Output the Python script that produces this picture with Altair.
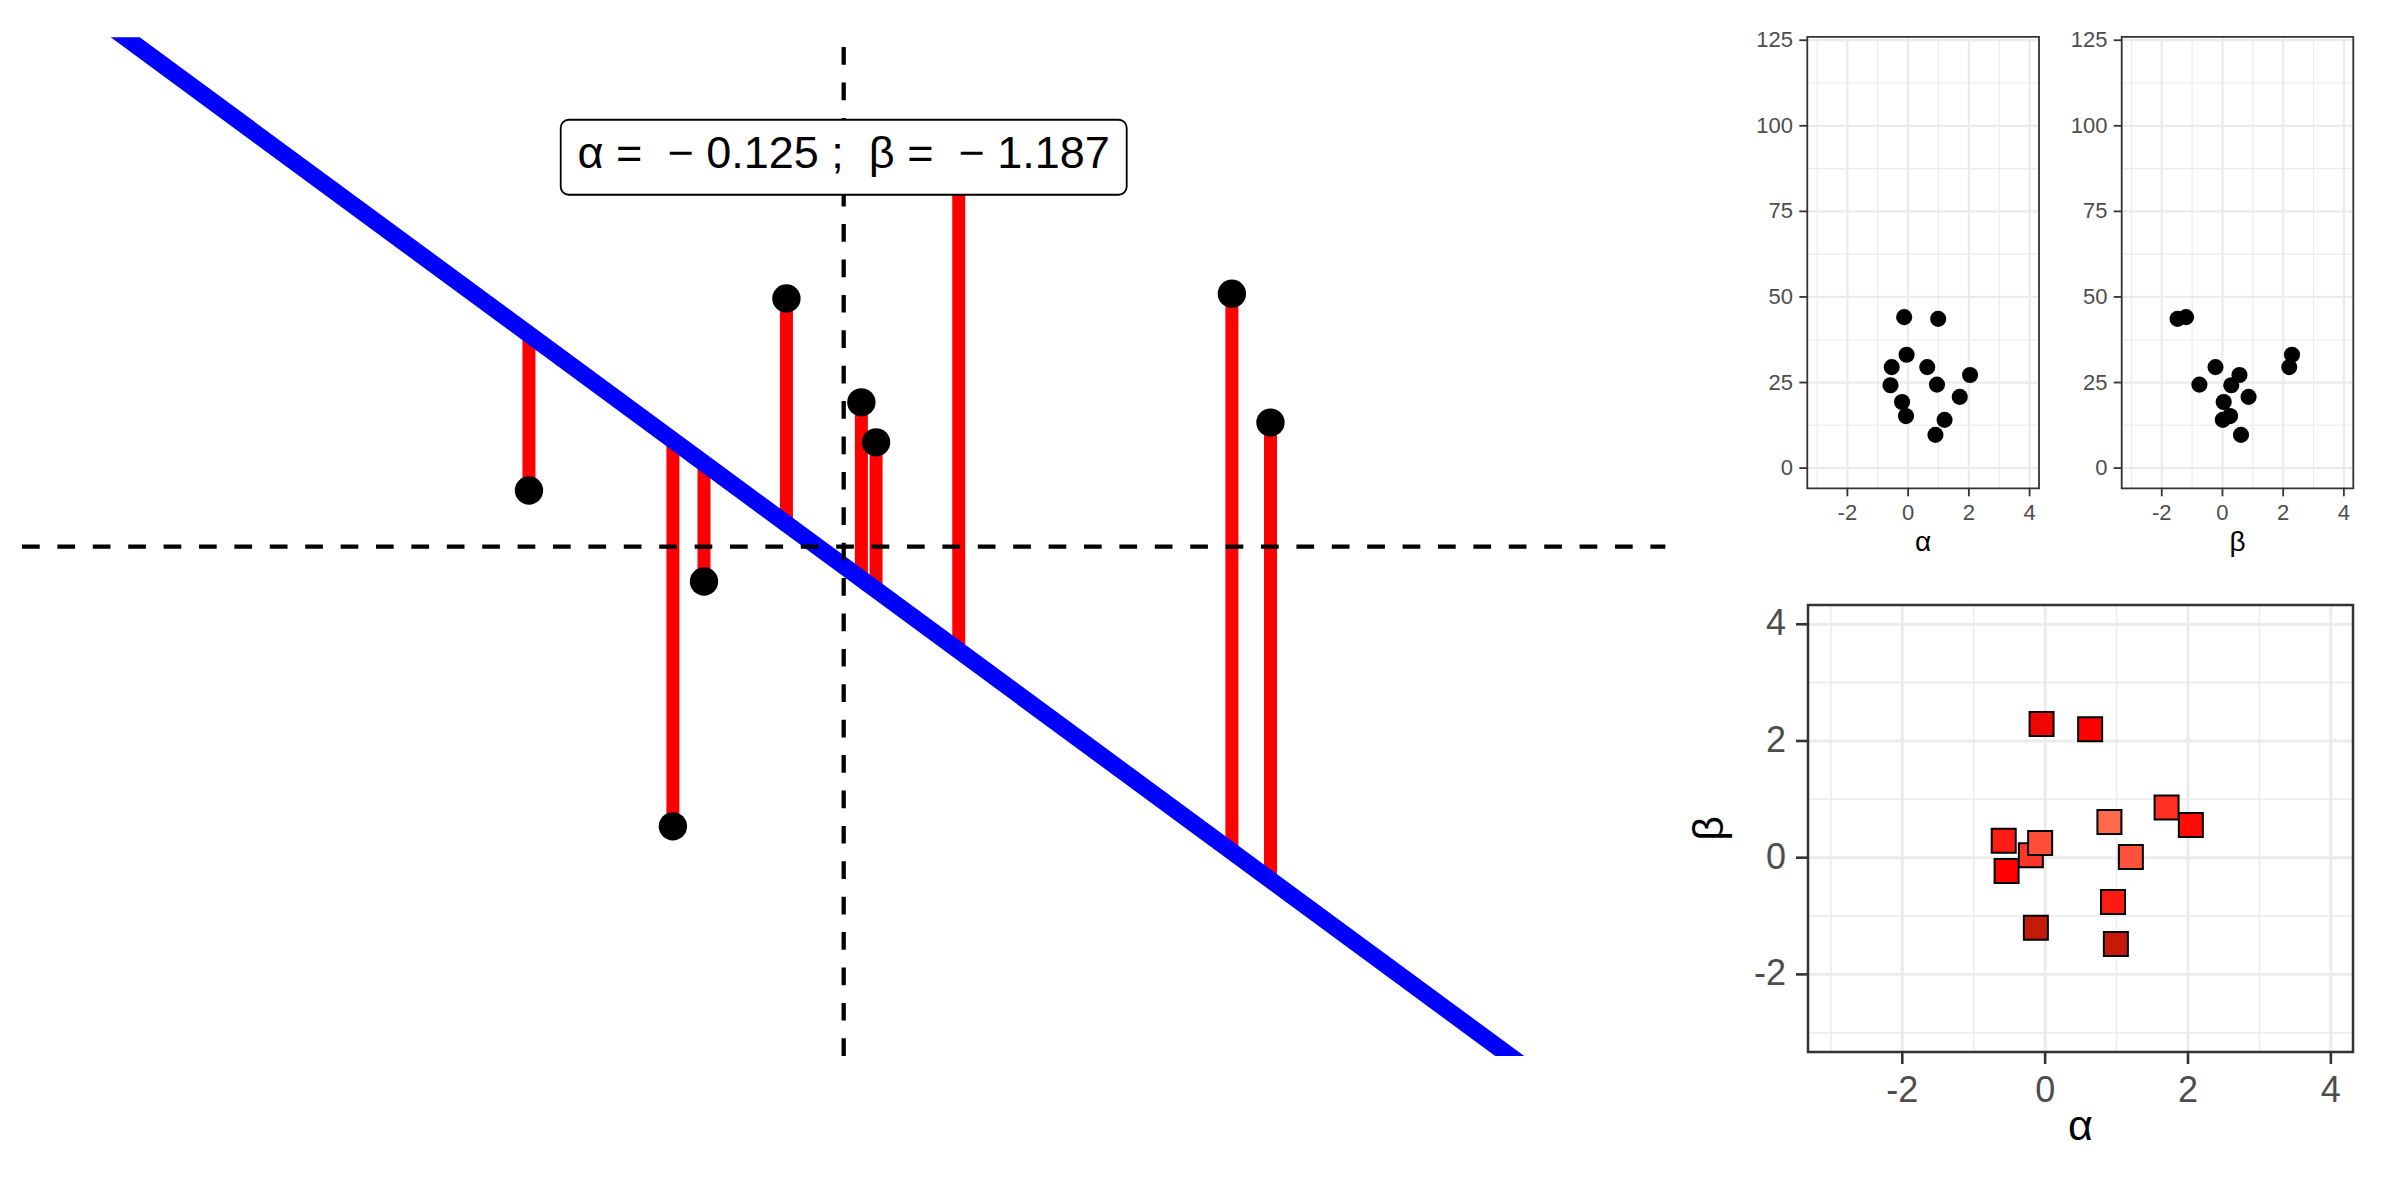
import altair as alt
import pandas as pd

# ---------------- data ----------------
x_obs = [-1.264, -0.686, -0.561, -0.230, 0.071, 0.130, 0.462, 1.559, 1.714]
y_obs = [0.364, -1.812, -0.226, 1.608, 0.935, 0.676, 2.523, 1.639, 0.804]
alpha_hat = -0.125
beta_hat = -1.187

alpha_path = [-0.13, 0.99, -0.05, -0.54, 0.63, 2.04, -0.58, 0.95, 1.70, -0.20, -0.07, 1.20, 0.90]
beta_path = [-1.20, -1.48, 2.29, -0.23, 2.20, 0.56, 0.29, -0.76, 0.86, 0.04, 0.25, 0.01, 0.61]
loss_path = [44.1, 43.6, 33.1, 29.5, 29.5, 27.2, 24.2, 24.4, 20.8, 19.3, 15.2, 14.1, 9.7]

coef_ticks = [-2, 0, 2, 4]
coef_minor = [-3, -1, 1, 3]
loss_ticks = [0, 25, 50, 75, 100, 125]
loss_minor = [12.5, 37.5, 62.5, 87.5, 112.5]

label_text = "\u03b1 = \u00a0\u2212 0.125 ; \u00a0\u03b2 = \u00a0\u2212 1.187"

# ---------------- layout constants ----------------
W, H = 2384, 1184
FONT = "Liberation Sans"
GRID = "#EBEBEB"
DARK = "#333333"
TXT = "#4D4D4D"

MAIN_LIM = [-3.3, 3.3]
MAIN_XR = [14, 1657.4]
MAIN_YR = [1048, 29.3]

COEF_LIM = [-3.32, 4.31]
LOSS_LIM = [-5.9, 126.0]
S1_XR = [1799.3, 2031.0]
S2_XR = [2113.7, 2345.3]
S_YR = [480.3, 28.8]
BR_XR = [1800.0, 2345.0]
BR_YLIM = [-3.33, 4.33]
BR_YR = [1044.0, 597.0]

kx = (MAIN_XR[1] - MAIN_XR[0]) / (MAIN_LIM[1] - MAIN_LIM[0])
ky = (MAIN_YR[0] - MAIN_YR[1]) / (MAIN_LIM[1] - MAIN_LIM[0])


def lin(domain, rng):
    return alt.Scale(domain=domain, range=rng, nice=False, zero=False)


def fmt(v):
    return f"{v:g}"


# ---------------- main panel ----------------
mx = lin(MAIN_LIM, MAIN_XR)
my = lin(MAIN_LIM, MAIN_YR)

df_obs = pd.DataFrame({"x": x_obs, "y": y_obs})
df_obs["fit"] = alpha_hat + beta_hat * df_obs["x"]

band_half = 14.5 / kx
df_band = pd.DataFrame({"yy": MAIN_LIM})
df_band["xc"] = (df_band["yy"] - alpha_hat) / beta_hat
df_band["xl"] = df_band["xc"] - band_half
df_band["xr"] = df_band["xc"] + band_half

df_h = pd.DataFrame({"x0": [MAIN_LIM[0]], "x1": [MAIN_LIM[1]], "y": [0.0]})
df_v = pd.DataFrame({"x": [0.0], "y0": [MAIN_LIM[0]], "y1": [MAIN_LIM[1]]})

lab_y = max(y_obs)
hw, hh = 283 / kx, 37.5 / ky
df_lab = pd.DataFrame({"x": [0.0], "y": [lab_y], "x0": [-hw], "x1": [hw],
                       "y0": [lab_y - hh], "y1": [lab_y + hh], "t": [label_text]})

seg = alt.Chart(df_obs).mark_rule(color="#FF0000", strokeWidth=13, strokeCap="butt").encode(
    x=alt.X("x:Q", scale=mx, axis=None),
    y=alt.Y("y:Q", scale=my, axis=None),
    y2="fit:Q",
)
band = alt.Chart(df_band).mark_area(orient="horizontal", color="#0000FF", opacity=1).encode(
    y=alt.Y("yy:Q", scale=my, axis=None),
    x=alt.X("xl:Q", scale=mx, axis=None),
    x2="xr:Q",
)
hdash = alt.Chart(df_h).mark_rule(color="black", strokeWidth=4.3, strokeDash=[17.7, 17.7]).encode(
    x=alt.X("x0:Q", scale=mx, axis=None), x2="x1:Q",
    y=alt.Y("y:Q", scale=my, axis=None),
)
vdash = alt.Chart(df_v).mark_rule(color="black", strokeWidth=4.3, strokeDash=[17.7, 17.7]).encode(
    x=alt.X("x:Q", scale=mx, axis=None),
    y=alt.Y("y0:Q", scale=my, axis=None), y2="y1:Q",
)
pts = alt.Chart(df_obs).mark_circle(size=804, color="black", opacity=1).encode(
    x=alt.X("x:Q", scale=mx, axis=None),
    y=alt.Y("y:Q", scale=my, axis=None),
)
box = alt.Chart(df_lab).mark_rect(fill="white", stroke="black", strokeWidth=1.8, cornerRadius=8).encode(
    x=alt.X("x0:Q", scale=mx, axis=None), x2="x1:Q",
    y=alt.Y("y0:Q", scale=my, axis=None), y2="y1:Q",
)
txt = alt.Chart(df_lab).mark_text(font=FONT, fontSize=45, color="black", align="center",
                                  baseline="alphabetic", dy=11).encode(
    x=alt.X("x:Q", scale=mx, axis=None),
    y=alt.Y("y:Q", scale=my, axis=None),
    text="t:N",
)
main = alt.layer(seg, band, hdash, vdash, pts, box, txt)


# ---------------- ggplot-like (theme_bw) panels ----------------
def panel(df, xf, yf, xs, ys, xlim, ylim, xmaj, xmin, ymaj, ymin, point, st, xtitle, ytitle):
    X = lambda f: alt.X(f, scale=xs, axis=None)
    Y = lambda f: alt.Y(f, scale=ys, axis=None)

    def vr(vals, w):
        d = pd.DataFrame({"v": vals, "lo": ylim[0], "hi": ylim[1]})
        return alt.Chart(d).mark_rule(color=GRID, strokeWidth=w).encode(
            x=X("v:Q"), y=Y("lo:Q"), y2="hi:Q")

    def hr(vals, w):
        d = pd.DataFrame({"v": vals, "lo": xlim[0], "hi": xlim[1]})
        return alt.Chart(d).mark_rule(color=GRID, strokeWidth=w).encode(
            y=Y("v:Q"), x=X("lo:Q"), x2="hi:Q")

    df_border = pd.DataFrame({"x0": [xlim[0]], "x1": [xlim[1]], "y0": [ylim[0]], "y1": [ylim[1]]})
    border = alt.Chart(df_border).mark_rect(filled=False, stroke=DARK, strokeWidth=st["border"]).encode(
        x=X("x0:Q"), x2="x1:Q", y=Y("y0:Q"), y2="y1:Q")

    marks = point.encode(x=X(f"{xf}:Q"), y=Y(f"{yf}:Q"))

    # x axis: ticks + labels
    dxt = pd.DataFrame({"v": xmaj, "base": ylim[0], "lab": [fmt(v) for v in xmaj]})
    xticks = alt.Chart(dxt).mark_rule(color=DARK, strokeWidth=st["tickw"], strokeCap="butt",
                                      y2Offset=st["tick"]).encode(
        x=X("v:Q"), y=Y("base:Q"), y2="base:Q")
    xlabs = alt.Chart(dxt).mark_text(font=FONT, fontSize=st["fs"], color=TXT, align="center",
                                     baseline="alphabetic", yOffset=st["xlab_off"]).encode(
        x=X("v:Q"), y=Y("base:Q"), text="lab:N")
    # y axis: ticks + labels
    dyt = pd.DataFrame({"v": ymaj, "base": xlim[0], "lab": [fmt(v) for v in ymaj]})
    yticks = alt.Chart(dyt).mark_rule(color=DARK, strokeWidth=st["tickw"], strokeCap="butt",
                                      x2Offset=-st["tick"]).encode(
        y=Y("v:Q"), x=X("base:Q"), x2="base:Q")
    ylabs = alt.Chart(dyt).mark_text(font=FONT, fontSize=st["fs"], color=TXT, align="right",
                                     baseline="middle", xOffset=-st["ylab_off"]).encode(
        y=Y("v:Q"), x=X("base:Q"), text="lab:N")

    layers = [vr(xmin, st["minor"]), hr(ymin, st["minor"]), vr(xmaj, st["major"]),
              hr(ymaj, st["major"]), marks, border, xticks, xlabs, yticks, ylabs]

    dtx = pd.DataFrame({"x": [(xlim[0] + xlim[1]) / 2], "y": [ylim[0]], "t": [xtitle]})
    layers.append(alt.Chart(dtx).mark_text(font=FONT, fontSize=st["tfs"], color="black",
                                           align="center", baseline="alphabetic",
                                           yOffset=st["xtitle_off"]).encode(
        x=X("x:Q"), y=Y("y:Q"), text="t:N"))
    if ytitle is not None:
        dty = pd.DataFrame({"x": [xlim[0]], "y": [(ylim[0] + ylim[1]) / 2], "t": [ytitle]})
        layers.append(alt.Chart(dty).mark_text(font=FONT, fontSize=st["tfs"], color="black",
                                               align="center", baseline="middle", angle=270,
                                               xOffset=-st["ytitle_off"]).encode(
            x=X("x:Q"), y=Y("y:Q"), text="t:N"))
    return alt.layer(*layers)


df_path = pd.DataFrame({"alpha": alpha_path, "beta": beta_path, "loss": loss_path})

small_style = dict(major=2.2, minor=1.1, border=1.8, tick=8, tickw=1.8, fs=22, tfs=28,
                   xlab_off=32, ylab_off=14.3, xtitle_off=63)
br_style = dict(major=2.9, minor=1.5, border=2.5, tick=12, tickw=2.6, fs=36, tfs=43,
                xlab_off=50, ylab_off=22, xtitle_off=88, ytitle_off=98)

small_dot = alt.Chart(df_path).mark_circle(size=260, color="black", opacity=1)

s1 = panel(df_path, "alpha", "loss", lin(COEF_LIM, S1_XR), lin(LOSS_LIM, S_YR), COEF_LIM, LOSS_LIM,
           coef_ticks, coef_minor, loss_ticks, loss_minor, small_dot, small_style, "\u03b1", None)
s2 = panel(df_path, "beta", "loss", lin(COEF_LIM, S2_XR), lin(LOSS_LIM, S_YR), COEF_LIM, LOSS_LIM,
           coef_ticks, coef_minor, loss_ticks, loss_minor, small_dot, small_style, "\u03b2", None)

square = alt.Chart(df_path).mark_point(shape="square", filled=True, size=576, stroke="black",
                                       strokeWidth=2, opacity=1, strokeOpacity=1, fillOpacity=1).encode(
    fill=alt.Fill("loss:Q", legend=None,
                  scale=alt.Scale(domain=[min(loss_path), 29.5, max(loss_path)],
                                  range=["#FF6A4D", "#FF0000", "#C41A0A"], interpolate="rgb"))
)
br = panel(df_path, "alpha", "beta", lin(COEF_LIM, BR_XR), lin(BR_YLIM, BR_YR), COEF_LIM, BR_YLIM,
           coef_ticks, coef_minor, coef_ticks, coef_minor, square, br_style, "\u03b1", "\u03b2")

chart = alt.layer(main, s1, s2, br).resolve_scale(
    x="independent", y="independent", fill="independent"
).properties(width=W, height=H, padding=0, background="white").configure_view(stroke=None)

chart.save("out.html", embed_options={"renderer": "svg", "actions": False})
